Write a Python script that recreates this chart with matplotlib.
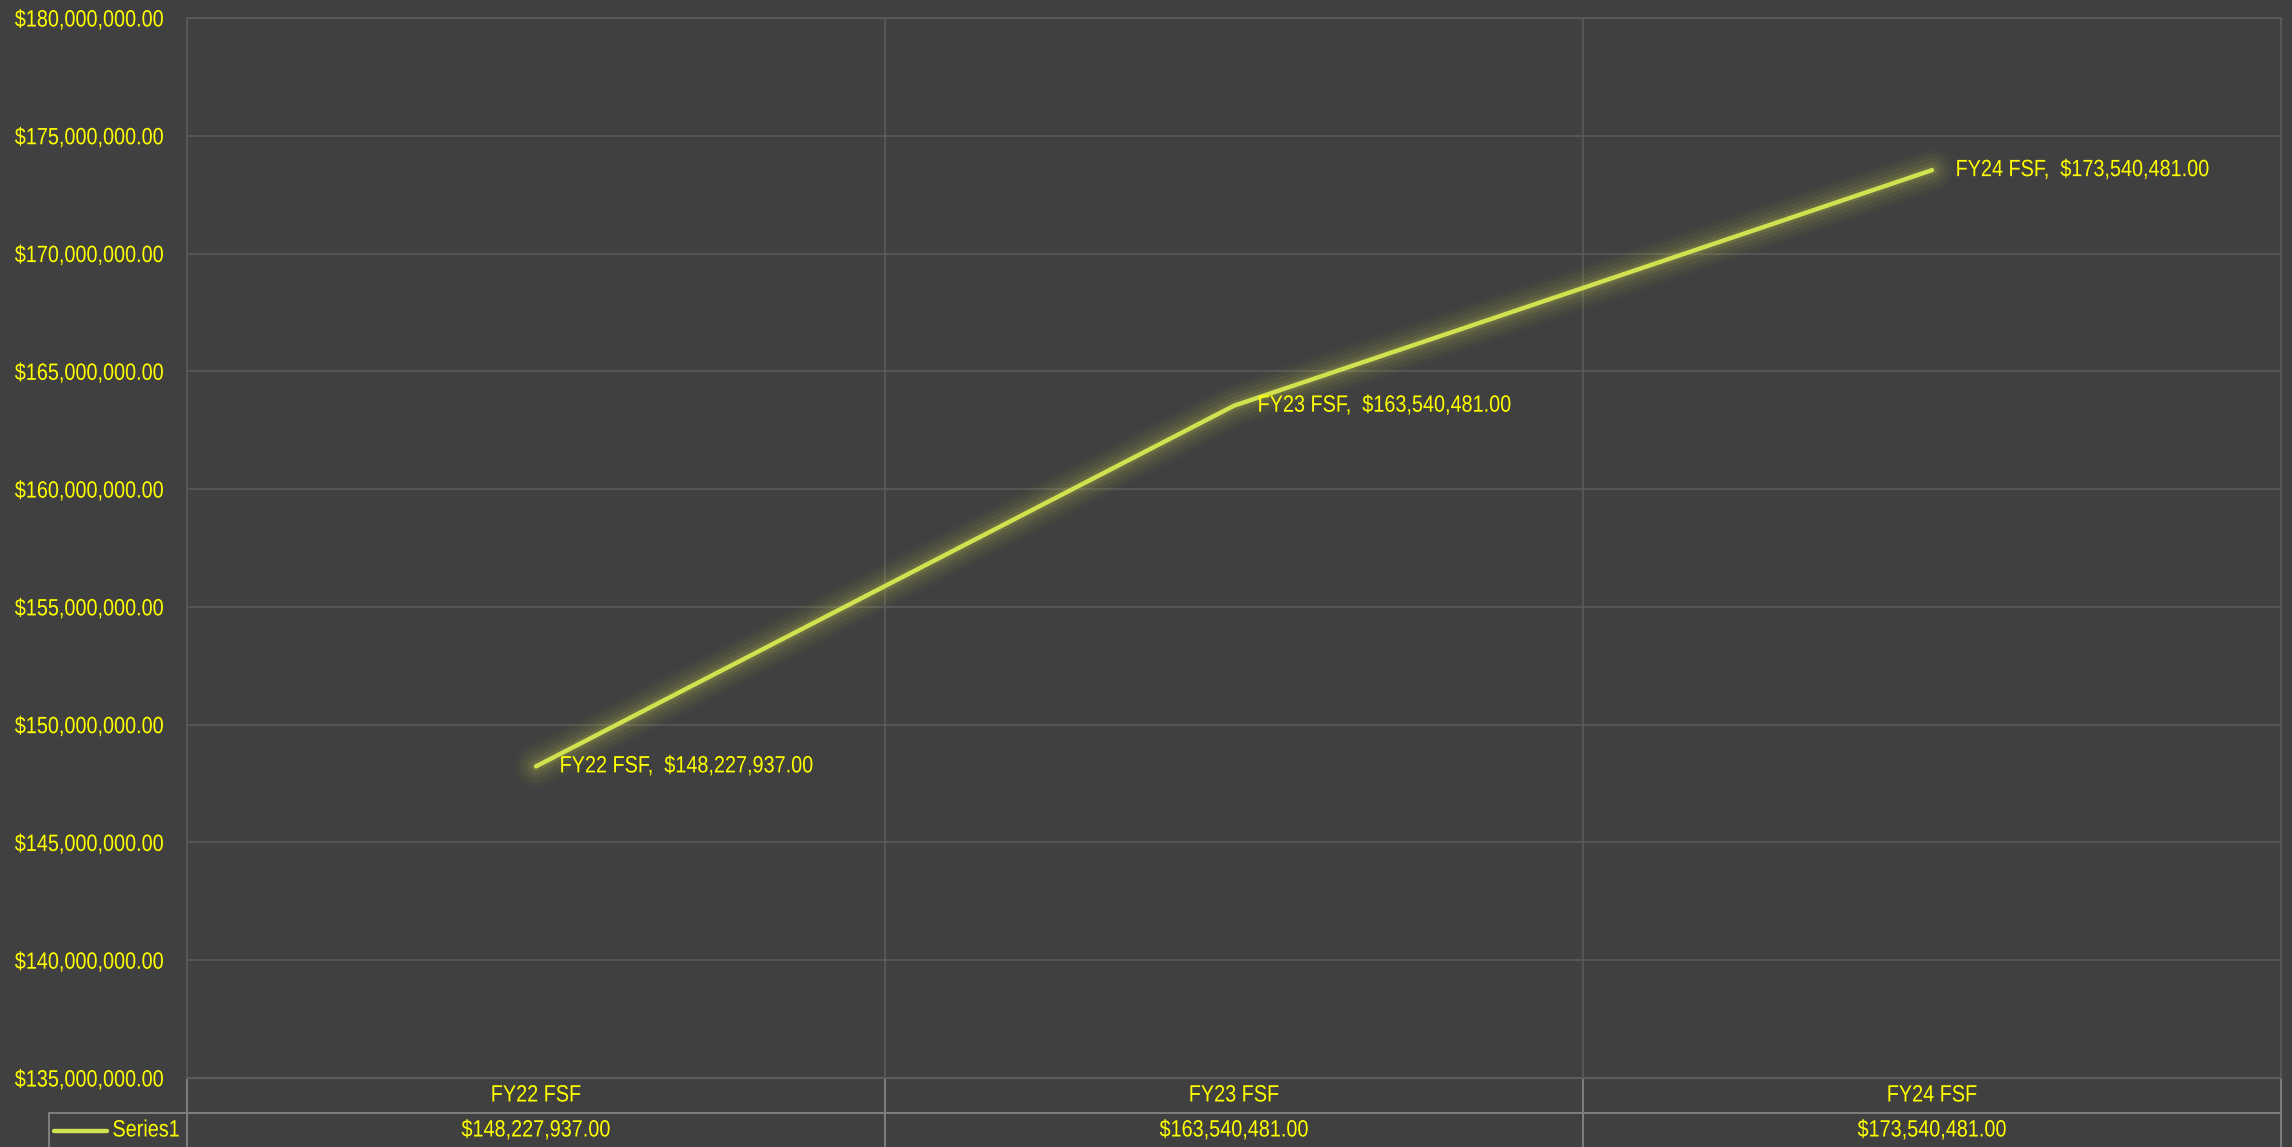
import matplotlib
matplotlib.use('Agg')
import matplotlib.pyplot as plt
from matplotlib.lines import Line2D
from matplotlib.patheffects import AbstractPathEffect
from matplotlib.transforms import Affine2D
import numpy as np

plt.rcParams['font.family'] = ['Liberation Sans', 'DejaVu Sans']

# data
categories = ['FY22 FSF', 'FY23 FSF', 'FY24 FSF']
values = [148227937.00, 163540481.00, 173540481.00]
series_name = 'Series1'
y_ticks = [135000000, 140000000, 145000000, 150000000, 155000000,
           160000000, 165000000, 170000000, 175000000, 180000000]

bg = '#404040'
grid_col = '#5a5a5a'
border_col = '#7f7f7f'
txt_col = '#ffff00'
line_col = '#d2e150'
fs = 17


class Squeeze(AbstractPathEffect):
    # narrow the glyphs horizontally (no condensed font installed)
    def __init__(self, sx=0.84, anchor=0.0):
        super().__init__()
        self.sx = sx
        self.anchor = anchor

    def draw_path(self, renderer, gc, tpath, affine, rgbFace=None):
        x0 = tpath.get_extents().x1 * self.anchor
        t = Affine2D().translate(-x0, 0).scale(self.sx, 1).translate(x0, 0)
        renderer.draw_path(gc, tpath, t + affine, rgbFace)


W, H = 2292, 1147
fig = plt.figure(figsize=(W / 100, H / 100), dpi=100, facecolor=bg)
ax = fig.add_axes([187 / W, 1 - 1078 / H, (2281 - 187) / W, (1078 - 18) / H])
ax.set_facecolor(bg)

x = np.arange(len(categories))

# glow under the line
for lw, a in [(30, 0.035), (24, 0.045), (18, 0.06), (12, 0.08), (7, 0.12)]:
    ax.plot(x, values, color=line_col, lw=lw, alpha=a, solid_capstyle='round',
            solid_joinstyle='round', zorder=3)
ax.plot(x, values, color=line_col, lw=3.2, solid_capstyle='round',
        solid_joinstyle='round', zorder=4)

for xi, v, c in zip(x, values, categories):
    ax.annotate('{},  ${:,.2f}'.format(c, v), (xi, v), xytext=(17, 0),
                textcoords='offset points', va='center', ha='left',
                color=txt_col, fontsize=fs, zorder=5,
                path_effects=[Squeeze()])

ax.set_xlim(-0.5, len(categories) - 0.5)
ax.set_ylim(y_ticks[0], y_ticks[-1])
ax.set_yticks(y_ticks)
ax.set_yticklabels(['${:,.2f}'.format(t) for t in y_ticks], ha='left',
                   path_effects=[Squeeze()])
ax.set_xticks([-0.5, 0.5, 1.5, 2.5])
ax.set_xticklabels([])
ax.tick_params(axis='both', length=0, colors=txt_col, labelsize=fs)
ax.tick_params(axis='y', pad=124)
ax.grid(True, color=grid_col, lw=1.2)
ax.set_axisbelow(True)
for s in ax.spines.values():
    s.set_color(grid_col)
    s.set_linewidth(1.2)

# data table under the plot
ax_h = 1078 - 18
ax_w = 2281 - 187
label_w = 138 / ax_w
tbl = ax.table(cellText=[['${:,.2f}'.format(v) for v in values]],
               colLabels=categories,
               colWidths=[1 / len(categories)] * len(categories),
               cellLoc='center', bbox=[0, -70 / ax_h, 1, 70 / ax_h])
# series name cell with legend key, left of the values row
tbl.add_cell(1, -1, width=label_w, height=tbl[1, 0].get_height(),
             text=series_name, loc='left')
tbl.auto_set_font_size(False)
for (r, c), cell in tbl.get_celld().items():
    cell.set_facecolor(bg)
    cell.set_edgecolor(border_col)
    cell.set_linewidth(1.4)
    cell.get_text().set_color(txt_col)
    cell.get_text().set_fontsize(fs)
    if c == -1:
        cell.PAD = 0.46
        cell.get_text().set_path_effects([Squeeze()])
    else:
        cell.get_text().set_path_effects([Squeeze(anchor=0.5)])

fig.add_artist(Line2D([54 / W, 107 / W], [1 - 1131 / H, 1 - 1131 / H],
                      color=line_col, lw=3.2, solid_capstyle='round'))

fig.savefig('out.png', dpi=100, facecolor=bg)
